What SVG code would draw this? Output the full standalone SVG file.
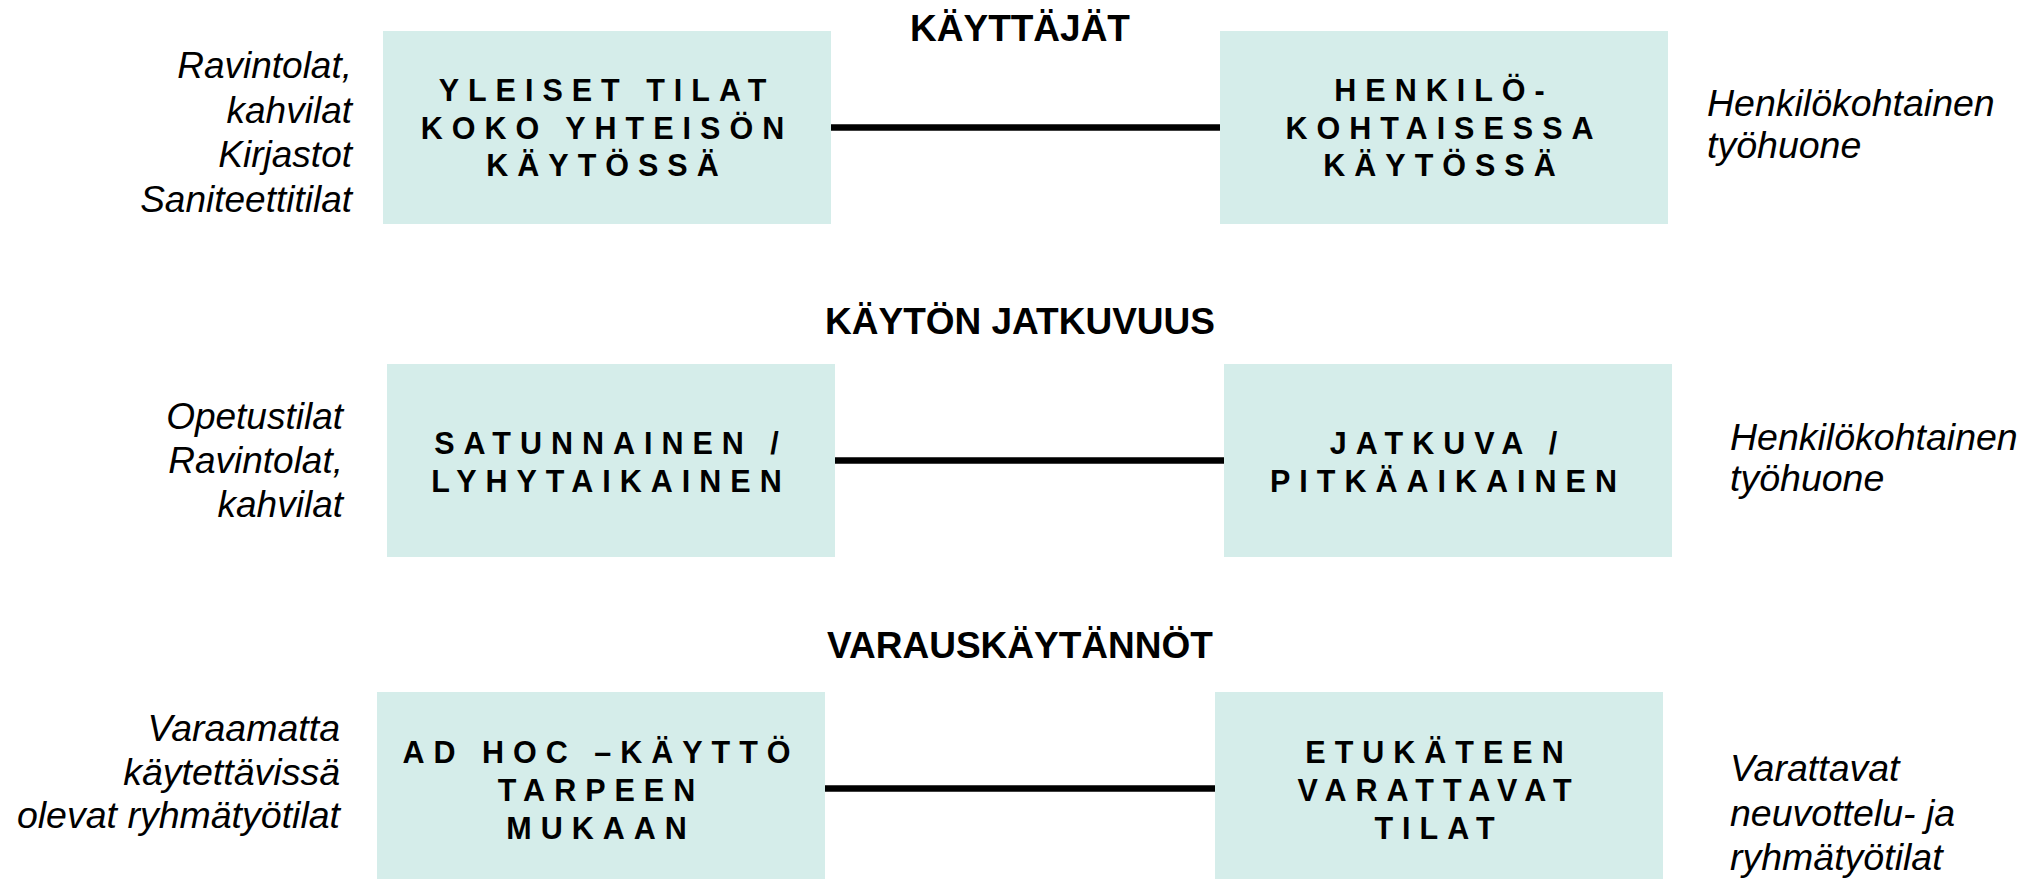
<svg xmlns="http://www.w3.org/2000/svg" width="2028" height="879" viewBox="0 0 2028 879">
<style>
.bg{fill:#ffffff}
.box{fill:#d5edea}
.title{font-family:"Liberation Sans",Arial,sans-serif;font-weight:bold;font-size:37px;fill:#000;text-anchor:middle}
.btxt{font-family:"Liberation Sans",Arial,sans-serif;font-weight:bold;font-size:30.5px;letter-spacing:9px;fill:#000;text-anchor:middle}
.lab{font-family:"Liberation Sans",Arial,sans-serif;font-style:italic;font-size:37px;fill:#000}
.labL{text-anchor:end}
.labL3{font-size:37.5px}
.labR{text-anchor:start;font-size:37.5px}
.conn{stroke:#000;stroke-width:6.5;fill:none}
</style>
<rect class="bg" x="0" y="0" width="2028" height="879"/>

<g id="titles">
<text class="title" x="1020" y="41">KÄYTTÄJÄT</text>
<text class="title" x="1020" y="334">KÄYTÖN JATKUVUUS</text>
<text class="title" x="1020" y="658">VARAUSKÄYTÄNNÖT</text>
</g>

<g id="connectors">
<line class="conn" x1="831" y1="127.5" x2="1220" y2="127.5"/>
<line class="conn" x1="835" y1="460.5" x2="1224" y2="460.5"/>
<line class="conn" x1="825" y1="788.5" x2="1215" y2="788.5"/>
</g>

<g id="node-yleiset">
<rect class="box" x="383" y="31" width="448" height="193"/>
<text class="btxt" x="607" y="101">YLEISET TILAT</text>
<text class="btxt" x="607" y="138.5">KOKO YHTEISÖN</text>
<text class="btxt" x="607" y="176">KÄYTÖSSÄ</text>
</g>

<g id="node-henkilo">
<rect class="box" x="1220" y="31" width="448" height="193"/>
<text class="btxt" x="1444" y="101">HENKILÖ-</text>
<text class="btxt" x="1444" y="138.5">KOHTAISESSA</text>
<text class="btxt" x="1444" y="176">KÄYTÖSSÄ</text>
</g>

<g id="node-satunnainen">
<rect class="box" x="387" y="364" width="448" height="193"/>
<text class="btxt" x="611" y="454">SATUNNAINEN /</text>
<text class="btxt" x="611" y="491.5">LYHYTAIKAINEN</text>
</g>

<g id="node-jatkuva">
<rect class="box" x="1224" y="364" width="448" height="193"/>
<text class="btxt" x="1448" y="454">JATKUVA /</text>
<text class="btxt" x="1448" y="491.5">PITKÄAIKAINEN</text>
</g>

<g id="node-adhoc">
<rect class="box" x="377" y="692" width="448" height="187"/>
<text class="btxt" x="601" y="763">AD HOC –KÄYTTÖ</text>
<text class="btxt" x="601" y="800.5">TARPEEN</text>
<text class="btxt" x="601" y="838.5">MUKAAN</text>
</g>

<g id="node-etukateen">
<rect class="box" x="1215" y="692" width="448" height="187"/>
<text class="btxt" x="1439" y="763">ETUKÄTEEN</text>
<text class="btxt" x="1439" y="800.5">VARATTAVAT</text>
<text class="btxt" x="1439" y="838.5">TILAT</text>
</g>

<g id="labels-left">
<text class="lab labL" x="352" y="78">Ravintolat,</text>
<text class="lab labL" x="352" y="122.5">kahvilat</text>
<text class="lab labL" x="352" y="167">Kirjastot</text>
<text class="lab labL" x="352" y="212">Saniteettitilat</text>
<text class="lab labL" x="343" y="428.5">Opetustilat</text>
<text class="lab labL" x="343" y="472.5">Ravintolat,</text>
<text class="lab labL" x="343" y="516.5">kahvilat</text>
<text class="lab labL labL3" x="340" y="741">Varaamatta</text>
<text class="lab labL labL3" x="340" y="784.5">käytettävissä</text>
<text class="lab labL labL3" x="340" y="828">olevat ryhmätyötilat</text>
</g>

<g id="labels-right">
<text class="lab labR" x="1707" y="116">Henkilökohtainen</text>
<text class="lab labR" x="1707" y="158">työhuone</text>
<text class="lab labR" x="1730" y="450">Henkilökohtainen</text>
<text class="lab labR" x="1730" y="491">työhuone</text>
<text class="lab labR" x="1730" y="781">Varattavat</text>
<text class="lab labR" x="1730" y="825.5">neuvottelu- ja</text>
<text class="lab labR" x="1730" y="870">ryhmätyötilat</text>
</g>
</svg>
